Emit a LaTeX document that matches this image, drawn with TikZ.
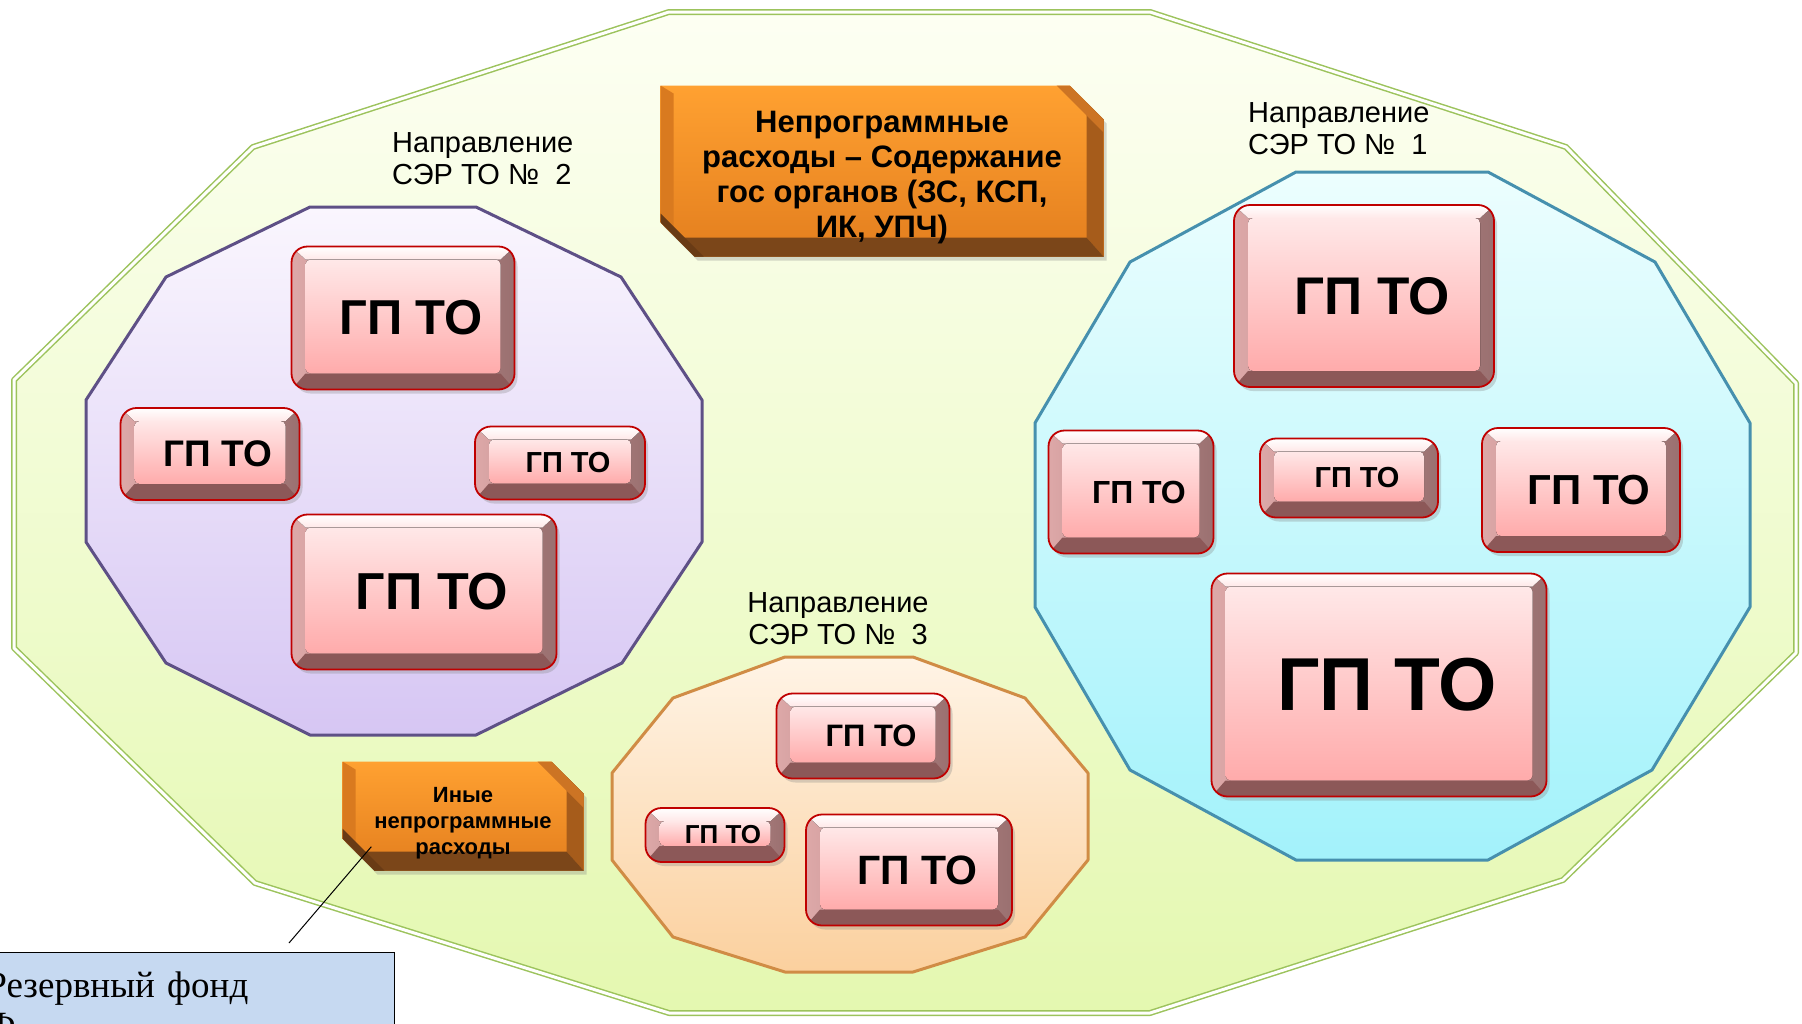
\documentclass[tikz,border=0pt]{standalone}
\usepackage{fontspec}
\setmainfont{Liberation Sans}
\newfontfamily\notefont{Liberation Serif}
\usetikzlibrary{shapes.misc, shadows}

\definecolor{outerline}{HTML}{9CC35C}
\definecolor{outertop}{HTML}{FDFFF3}
\definecolor{outerbot}{HTML}{E4F8B0}
\definecolor{violetline}{HTML}{5E5086}
\definecolor{violettop}{HTML}{FAF6FE}
\definecolor{violetbot}{HTML}{D6C6F3}
\definecolor{cyanline}{HTML}{4690AE}
\definecolor{cyantop}{HTML}{ECFEFE}
\definecolor{cyanbot}{HTML}{A3F2FB}
\definecolor{peachline}{HTML}{D08C45}
\definecolor{peachtop}{HTML}{FFF4E6}
\definecolor{peachbot}{HTML}{FBD09E}
\definecolor{gpborder}{HTML}{C00000}
\definecolor{gpleft}{HTML}{DDA8A8}
\definecolor{gpright}{HTML}{9A7070}
\definecolor{gpbottom}{HTML}{8C5858}
\definecolor{gpfacetop}{HTML}{FFE8E8}
\definecolor{gpfacebot}{HTML}{FFABAB}
\definecolor{obfacetop}{HTML}{FFA131}
\definecolor{obfacebot}{HTML}{E37E1E}
\definecolor{obleft}{HTML}{D97A1F}
\definecolor{obright}{HTML}{A65C1B}
\definecolor{obbottom}{HTML}{7B4619}
\definecolor{obcorner}{HTML}{CC7424}
\definecolor{notefill}{HTML}{C6D9F1}

\begin{document}
\begin{tikzpicture}[
    x=1pt, y=-1pt,
    region/.style={line width=3pt, line join=round},
    gpbox/.style={
        rectangle, rounded corners=16pt, draw=gpborder, line width=1.8pt,
        inner sep=0pt, font=\fontsize{#1}{#1}\selectfont\bfseries,
        execute at begin node={\hspace*{16pt}},
        drop shadow={opacity=.3, shadow xshift=3pt, shadow yshift=-4pt},
        path picture={
          \fill[sharp corners, left color=gpleft, right color=gpright]
            (path picture bounding box.south west) rectangle (path picture bounding box.north east);
          \fill[sharp corners, gpbottom]
            (path picture bounding box.south west) -- (path picture bounding box.south east)
            -- ([shift={(-14pt,16pt)}]path picture bounding box.south east)
            -- ([shift={(14pt,16pt)}]path picture bounding box.south west) -- cycle;
          \fill[sharp corners, top color=white, bottom color=gpfacetop]
            (path picture bounding box.north west) -- (path picture bounding box.north east)
            -- ([shift={(-14pt,-13pt)}]path picture bounding box.north east)
            -- ([shift={(14pt,-13pt)}]path picture bounding box.north west) -- cycle;
          \fill[rounded corners=5pt, top color=gpfacetop, bottom color=gpfacebot]
            ([shift={(14pt,16pt)}]path picture bounding box.south west)
            rectangle ([shift={(-14pt,-13pt)}]path picture bounding box.north east);
        }
    },
    costbox/.style={
        chamfered rectangle, chamfered rectangle corners={north east, south west},
        chamfered rectangle xsep=#1, chamfered rectangle ysep=#1,
        inner sep=0pt, align=center,
        drop shadow={opacity=.3, shadow xshift=3pt, shadow yshift=-4pt},
        path picture={
          \fill[top color=obfacetop, bottom color=obfacebot]
            (path picture bounding box.south west) rectangle (path picture bounding box.north east);
          \fill[obleft]
            (path picture bounding box.north west) -- ([shift={(13pt,-8pt)}]path picture bounding box.north west)
            -- ([shift={(13pt,19pt)}]path picture bounding box.south west) -- (path picture bounding box.south west) -- cycle;
          \fill[obright]
            (path picture bounding box.north east) -- (path picture bounding box.south east)
            -- ([shift={(-17pt,19pt)}]path picture bounding box.south east)
            -- ([shift={(-17pt,-8pt)}]path picture bounding box.north east) -- cycle;
          \fill[obbottom]
            (path picture bounding box.south west) -- (path picture bounding box.south east)
            -- ([shift={(-17pt,19pt)}]path picture bounding box.south east)
            -- ([shift={(13pt,19pt)}]path picture bounding box.south west) -- cycle;
          \fill[obcorner]
            ([xshift=-#1-30pt]path picture bounding box.north east) -- (path picture bounding box.north east)
            -- ([yshift=-#1-30pt]path picture bounding box.north east) -- cycle;
          \fill[obbottom!85!black]
            ([yshift=#1+26pt]path picture bounding box.south west) -- (path picture bounding box.south west)
            -- ([xshift=#1+26pt]path picture bounding box.south west) -- cycle;
        }
    },
    dirlabel/.style={inner sep=0pt, font=\fontsize{29}{32}\selectfont},
    notebox/.style={
        draw=black, line width=1pt, fill=notefill, anchor=north west,
        inner xsep=6pt, inner ysep=19pt, text width=402pt, align=left,
        font=\notefont\fontsize{37}{40}\selectfont
    },
    noteline/.style={draw=black, line width=1pt},
]

  \fill[white] (0,0) rectangle (1802,1023);
  \useasboundingbox (0,0) rectangle (1802,1023);

  % areas
  \draw[line width=1.5pt, double distance=3pt, line join=round, draw=outerline,
        double=white!80!outertop, top color=outertop, bottom color=outerbot]
    (669,12) -- (1150,12) -- (1566,147) -- (1796,383) -- (1796,653) -- (1563,880)
    -- (1150,1013) -- (669,1013) -- (255,883) -- (14,648) -- (14,380) -- (253,147) -- cycle;
  \draw[region, draw=violetline, top color=violettop, bottom color=violetbot]
    (310,207) -- (476,207) -- (621,277) -- (702,400) -- (702,542) -- (622,663)
    -- (476,735) -- (310,735) -- (166,663) -- (86,542) -- (86,400) -- (166,277) -- cycle;
  \draw[region, draw=cyanline, top color=cyantop, bottom color=cyanbot]
    (1296,172) -- (1488,172) -- (1655,262) -- (1750,423) -- (1750,607) -- (1652,770)
    -- (1488,860) -- (1296,860) -- (1130,770) -- (1035,607) -- (1035,423) -- (1130,262) -- cycle;
  \draw[region, draw=peachline, top color=peachtop, bottom color=peachbot]
    (785,657) -- (913,657) -- (1025,698) -- (1088,773) -- (1088,860) -- (1025,937)
    -- (913,972) -- (785,972) -- (673,937) -- (612,860) -- (612,773) -- (673,698) -- cycle;

  % START OF TIKZ NODES

  % direction 2
  \node[gpbox=49, minimum width=223pt, minimum height=143pt] (twoA) at (403,318) {ГП ТО};
  \node[gpbox=37, minimum width=179pt, minimum height=92pt] (twoB) at (210,454) {ГП ТО};
  \node[gpbox=29, minimum width=170pt, minimum height=73pt] (twoC) at (560,463) {ГП ТО};
  \node[gpbox=52, minimum width=265pt, minimum height=155pt] (twoD) at (424,592) {ГП ТО};

  % direction 1
  \node[gpbox=53, minimum width=260pt, minimum height=182pt] (oneA) at (1364,296) {ГП ТО};
  \node[gpbox=32, minimum width=165pt, minimum height=123pt] (oneB) at (1131,492) {ГП ТО};
  \node[gpbox=29, minimum width=178pt, minimum height=79pt] (oneC) at (1349,478) {ГП ТО};
  \node[gpbox=42, minimum width=198pt, minimum height=124pt] (oneD) at (1581,490) {ГП ТО};
  \node[gpbox=75, minimum width=335pt, minimum height=223pt] (oneE) at (1379,685) {ГП ТО};

  % direction 3
  \node[gpbox=31, minimum width=173pt, minimum height=85pt] (threeA) at (863,736) {ГП ТО};
  \node[gpbox=26, minimum width=139pt, minimum height=54pt] (threeB) at (715,835) {ГП ТО};
  \node[gpbox=41, minimum width=206pt, minimum height=111pt] (threeC) at (909,870) {ГП ТО};

  % non-programme costs
  \node[costbox=17pt, minimum width=443pt, minimum height=171pt,
        text height=134pt, text depth=1.5pt,
        font=\fontsize{31}{35}\selectfont\bfseries] (nonprog) at (882,171)
        {Непрограммные\\расходы – Содержание\\гос органов (ЗС, КСП,\\ИК, УПЧ)};
  \node[costbox=16pt, minimum width=241pt, minimum height=109pt,
        text height=76pt, text depth=0pt,
        font=\fontsize{22}{26}\selectfont\bfseries] (other) at (463,816)
        {Иные\\непрограммные\\расходы};

  % labels
  \node[dirlabel, anchor=north west, align=left] (dirtwo) at (392,132) {Направление\\СЭР ТО №\ \ 2};
  \node[dirlabel, anchor=north west, align=left] (dirone) at (1248,102) {Направление\\СЭР ТО №\ \ 1};
  \node[dirlabel, anchor=north, align=center] (dirthree) at (838,592) {Направление\\СЭР ТО №\ \ 3};

  % reserve fund
  \node[notebox] (reserve) at (-20,952) {Резервный фонд\\Ф};
  \coordinate (notetip) at (289,943);
  \draw[noteline] ([shift={(13pt,8pt)}]other.south west) -- (notetip);

\end{tikzpicture}
\end{document}
